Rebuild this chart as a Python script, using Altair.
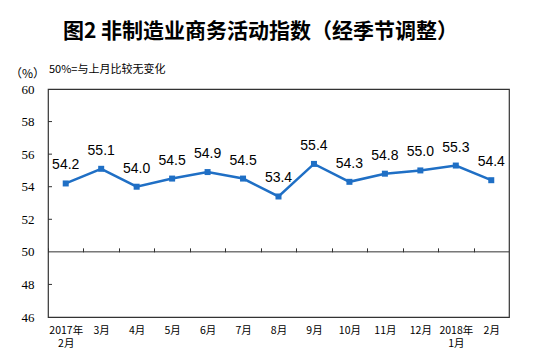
import altair as alt
import pandas as pd

months = ["2017年2月", "3月", "4月", "5月", "6月", "7月", "8月", "9月",
          "10月", "11月", "12月", "2018年1月", "2月"]
values = [54.2, 55.1, 54.0, 54.5, 54.9, 54.5, 53.4, 55.4, 54.3, 54.8, 55.0, 55.3, 54.4]
y_ticks = [46, 48, 50, 52, 54, 56, 58, 60]
inner_ticks = [48, 52, 54, 56, 58]
baseline_value = [50]

title_text = "图2  非制造业商务活动指数（经季节调整）"
unit_text = "（%）"
note_text = "50%=与上月比较无变化"

df = pd.DataFrame({"month": months, "value": values})
df_ticks = pd.DataFrame({"t": inner_ticks})
df_base = pd.DataFrame({"b": baseline_value})
df_note = pd.DataFrame({"note": [note_text]})

W, H = 461, 228
step = W / len(months)

xscale = alt.Scale(domain=months, type="point", padding=0.5)
yscale = alt.Scale(domain=[46, 60], nice=False, zero=False)

CJK = "Noto Sans CJK SC"

label_expr = ("indexof(datum.label,'年')>0 ? [substring(datum.label,0,indexof(datum.label,'年')+1),"
              " substring(datum.label,indexof(datum.label,'年')+1)] : datum.label")

yaxis = alt.Axis(values=y_ticks, ticks=False, domain=False, grid=False,
                 labelFont="Liberation Serif", labelFontSize=13,
                 labelColor="#000", labelPadding=14,
                 titleAngle=0, titleX=-21, titleY=-16, titleAlign="center",
                 titleBaseline="middle", titleFont=CJK, titleFontSize=12,
                 titleFontWeight="normal", titleColor="#000")

line = alt.Chart(df).mark_line(
    color="#1f6fc5", strokeWidth=2.5,
    point=alt.OverlayMarkDef(shape="square", size=36, filled=True, color="#1f6fc5", opacity=1)
).encode(
    x=alt.X("month:O", scale=xscale, sort=months, title=None,
            axis=alt.Axis(orient="bottom", labelExpr=label_expr, labelAngle=0,
                          labelFont=CJK, labelFontSize=10.5, labelColor="#000",
                          labelLineHeight=13.5, labelPadding=8, ticks=False,
                          domain=False, grid=False)),
    y=alt.Y("value:Q", scale=yscale, title=unit_text, axis=yaxis),
)

labels = alt.Chart(df).mark_text(
    font="Liberation Sans", fontSize=14, color="#000", dy=-18, baseline="middle"
).encode(
    x=alt.X("month:O", scale=xscale, sort=months, title=None,
            axis=alt.Axis(orient="top", labels=False, domain=False, grid=False,
                          tickSize=4, tickColor="#333", tickOffset=-step / 2,
                          offset=-(H * 10 / 14))),
    y=alt.Y("value:Q", scale=yscale, title=unit_text, axis=yaxis),
    text=alt.Text("value:Q", format=".1f"),
)

base_rule = alt.Chart(df_base).mark_rule(color="#333", strokeWidth=1).encode(
    y=alt.Y("b:Q", scale=yscale, title=unit_text, axis=yaxis)
)

ytick_rules = alt.Chart(df_ticks).mark_rule(color="#333", strokeWidth=1).encode(
    y=alt.Y("t:Q", scale=yscale, title=unit_text, axis=yaxis),
    x=alt.value(0), x2=alt.value(4),
)

note = alt.Chart(df_note).mark_text(
    font=CJK, fontSize=11, color="#000", align="left", baseline="middle"
).encode(
    text="note:N", x=alt.value(1), y=alt.value(-19)
)

chart = alt.layer(line, labels, base_rule, ytick_rules, note).resolve_axis(
    x="independent"
).properties(
    width=W, height=H,
    autosize=alt.AutoSizeParams(type="none"),
    padding={"left": 40, "top": 81, "right": 37, "bottom": 36},
    title=alt.Title(title_text, font=CJK, fontSize=21, fontWeight="bold",
                    color="#000", anchor="middle", offset=22, dx=-18),
).configure_view(stroke="#333", strokeWidth=1.2)

chart.save("out.html", embed_options={"renderer": "svg", "actions": False})
